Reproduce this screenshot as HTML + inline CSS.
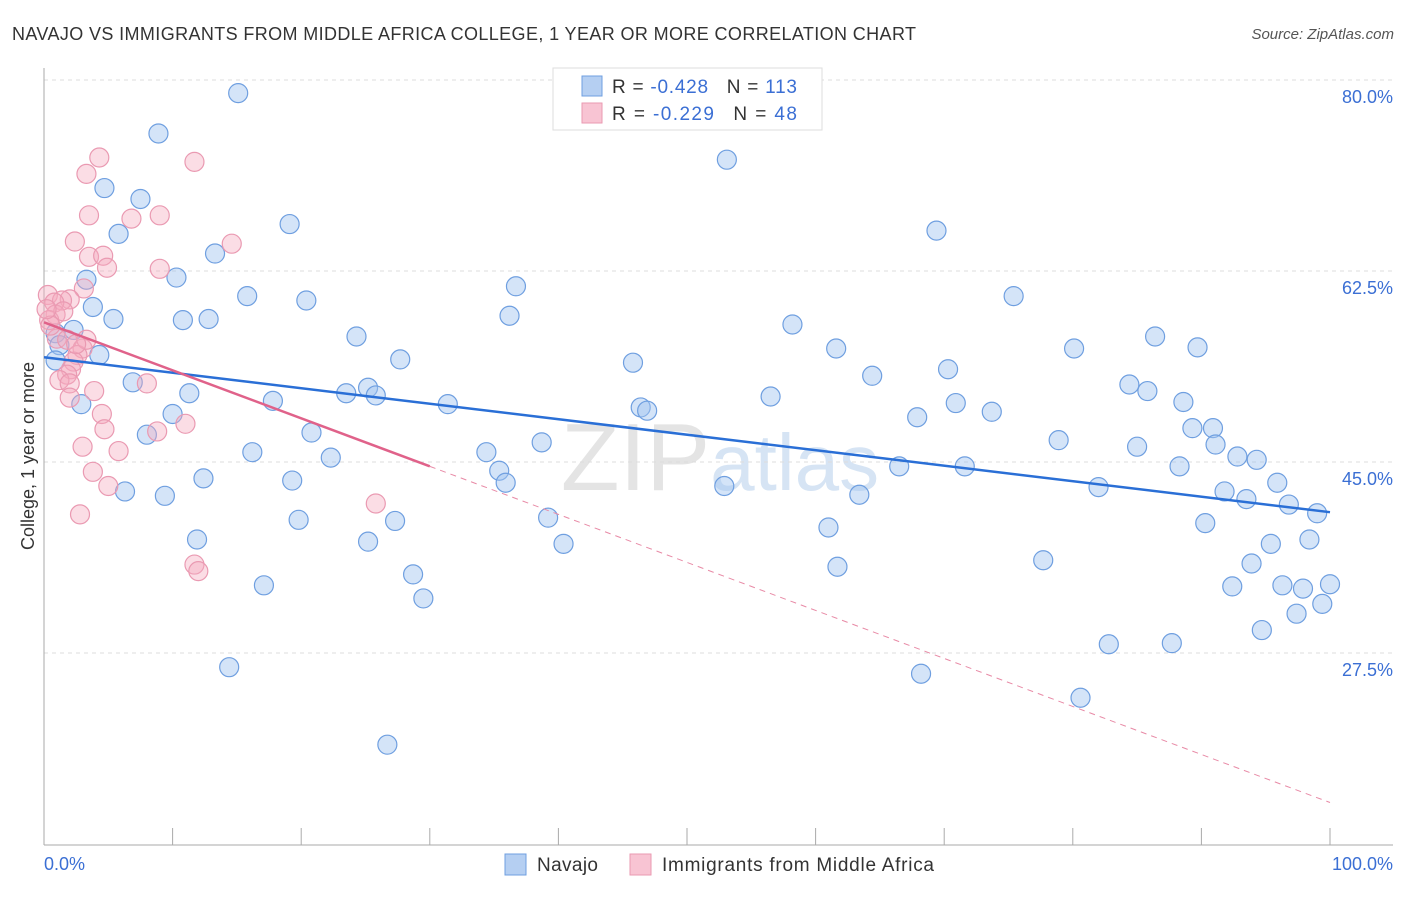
<!DOCTYPE html>
<html><head><meta charset="utf-8"><style>
body{margin:0;background:#fff;font-family:"Liberation Sans",sans-serif}
svg text{font-family:"Liberation Sans",sans-serif}
</style></head><body>
<svg id="chart" width="1406" height="892" xmlns="http://www.w3.org/2000/svg">
<text x="12" y="40" font-size="18" fill="#333" textLength="904" lengthAdjust="spacing">NAVAJO VS IMMIGRANTS FROM MIDDLE AFRICA COLLEGE, 1 YEAR OR MORE CORRELATION CHART</text>
<text x="1394" y="39" font-size="15" fill="#555" font-style="italic" text-anchor="end">Source: ZipAtlas.com</text>
<text x="720" y="490" font-size="96" fill="#e4e4e4" text-anchor="middle" font-family="Liberation Serif">ZIP<tspan fill="#d6e4f4" font-family="Liberation Sans" font-size="80">atlas</tspan></text>
<g id="grid"></g>
<g id="axes"></g>
<g id="pts"></g>
<g id="trends"></g>
<text transform="translate(34,456) rotate(-90)" font-size="18" fill="#333" text-anchor="middle">College, 1 year or more</text>
<text x="44" y="870" font-size="18" fill="#3b6fd4">0.0%</text>
<text x="1393" y="870" font-size="18" fill="#3b6fd4" text-anchor="end">100.0%</text>
<g>
<rect x="553" y="68" width="269" height="62" fill="#fff" stroke="#ddd"/>
<rect x="582" y="76" width="20" height="20" fill="#b5cff2" stroke="#6f9fe0"/>
<rect x="582" y="103" width="20" height="20" fill="#f8c4d3" stroke="#ea9ab2"/>
<text x="612" y="93" font-size="19" fill="#333" textLength="185" lengthAdjust="spacing">R = <tspan fill="#3b6fd4">-0.428</tspan><tspan dx="18">N = </tspan><tspan fill="#3b6fd4">113</tspan></text>
<text x="612" y="120" font-size="19" fill="#333" textLength="185" lengthAdjust="spacing">R = <tspan fill="#3b6fd4">-0.229</tspan><tspan dx="18">N = </tspan><tspan fill="#3b6fd4"> 48</tspan></text>
</g>
<g>
<rect x="505" y="854" width="21" height="21" fill="#b5cff2" stroke="#6f9fe0"/>
<text x="537" y="871" font-size="19" fill="#333" textLength="61" lengthAdjust="spacing">Navajo</text>
<rect x="630" y="854" width="21" height="21" fill="#f8c4d3" stroke="#ea9ab2"/>
<text x="662" y="871" font-size="19" fill="#333" textLength="272" lengthAdjust="spacing">Immigrants from Middle Africa</text>
</g>
</svg>
<script>
const yTicks=[80,62.5,45,27.5];
const yTickLabels=["80.0%","62.5%","45.0%","27.5%"];
const xTicks=[0,10,20,30,40,50,60,70,80,90,100];
const navajoX=[15.1,8.9,53.1,4.7,7.5,19.1,5.8,69.4,13.3,3.3,10.3,36.7,15.8,75.4,20.4,3.8,5.4,10.8,12.8,36.2,58.2,2.3,24.3,86.4,0.9,1.2,61.6,80.1,89.7,4.3,27.7,0.9,45.8,70.3,64.4,6.9,84.4,25.2,23.5,25.8,11.3,56.5,85.8,17.8,2.9,31.4,70.9,88.6,46.4,46.9,73.7,10.0,67.9,89.3,90.9,8.0,20.8,78.9,38.7,91.1,85.0,16.2,34.4,92.8,94.3,22.3,66.5,71.6,88.3,35.4,12.4,19.3,35.9,52.9,95.9,82.0,6.3,9.4,63.4,91.8,93.5,96.8,99.0,39.2,19.8,27.3,90.3,61.0,11.9,25.2,40.4,98.4,95.4,77.7,93.9,61.7,28.7,17.1,92.4,96.3,97.9,100.0,29.5,99.4,97.4,94.7,82.8,87.7,14.4,68.2,80.6,26.7];
const navajoY=[78.8,75.1,72.7,70.1,69.1,66.8,65.9,66.2,64.1,61.7,61.9,61.1,60.2,60.2,59.8,59.2,58.1,58.0,58.1,58.4,57.6,57.1,56.5,56.5,56.8,55.7,55.4,55.4,55.5,54.8,54.4,54.3,54.1,53.5,52.9,52.3,52.1,51.8,51.3,51.1,51.3,51.0,51.5,50.6,50.3,50.3,50.4,50.5,50.0,49.7,49.6,49.4,49.1,48.1,48.1,47.5,47.7,47.0,46.8,46.6,46.4,45.9,45.9,45.5,45.2,45.4,44.6,44.6,44.6,44.2,43.5,43.3,43.1,42.8,43.1,42.7,42.3,41.9,42.0,42.3,41.6,41.1,40.3,39.9,39.7,39.6,39.4,39.0,37.9,37.7,37.5,37.9,37.5,36.0,35.7,35.4,34.7,33.7,33.6,33.7,33.4,33.8,32.5,32.0,31.1,29.6,28.3,28.4,26.2,25.6,23.4,19.1];
const immX=[4.3,11.7,3.3,9.0,3.5,6.8,14.6,2.4,3.5,4.6,4.9,9.0,3.1,0.3,2.0,1.4,0.8,0.9,0.4,1.0,1.8,3.0,2.6,2.3,2.1,1.8,1.2,2.0,8.0,3.9,2.0,4.5,11.0,4.7,8.8,3.0,5.8,3.8,5.0,25.8,2.8,11.7,12.0,3.3,0.5,1.5,2.5,0.2];
const immY=[72.9,72.5,71.4,67.6,67.6,67.3,65.0,65.2,63.8,63.9,62.8,62.7,60.9,60.3,59.9,59.8,59.6,58.5,58.0,56.3,56.2,55.4,54.8,54.2,53.5,53.0,52.5,52.2,52.2,51.5,50.9,49.4,48.5,48.0,47.8,46.4,46.0,44.1,42.8,41.2,40.2,35.6,35.0,56.2,57.5,58.8,55.8,59.0];
const navajoTrend=[54.6,40.4];
const immTrend=[57.8,13.8];
const immSolidEnd=30;
const NS="http://www.w3.org/2000/svg";
const sx=v=>44+v*12.86, sy=v=>80+(80-v)*10.914;
function mk(t,a,p){const e=document.createElementNS(NS,t);for(const k in a)e.setAttribute(k,a[k]);p.appendChild(e);return e;}
const grid=document.getElementById('grid');
yTicks.forEach((t,i)=>{
 const l=mk('line',{x1:44,x2:1393,y1:sy(t),y2:sy(t),stroke:'#ddd','stroke-dasharray':'4,4'},grid);
 
 
 const tx=mk('text',{x:1393,y:sy(t)+23,'font-size':18,fill:'#3b6fd4','text-anchor':'end'},grid);
 tx.textContent=yTickLabels[i];
 
 
});
const ax=document.getElementById('axes');
const ya=mk('line',{x1:44,x2:44,y1:68,y2:845,stroke:'#aaa'},ax);


const xa=mk('line',{x1:44,x2:1393,y1:845,y2:845,stroke:'#aaa'},ax);


xTicks.forEach(t=>{const k=mk('line',{x1:sx(t),x2:sx(t),y1:828,y2:845,stroke:'#aaa'},ax);
 
 });
const pts=document.getElementById('pts');
navajoX.forEach((x,i)=>{const c=mk('circle',{cx:sx(x),cy:sy(navajoY[i]),r:9.5,fill:'rgba(160,196,240,0.45)',stroke:'#6f9fe0','stroke-width':1.2},pts);
 
 });
immX.forEach((x,i)=>{const c=mk('circle',{cx:sx(x),cy:sy(immY[i]),r:9.5,fill:'rgba(245,170,190,0.4)',stroke:'#ea9ab2','stroke-width':1.2},pts);
 
 });
const tr=document.getElementById('trends');
const f=(tp,x)=>tp[0]+(tp[1]-tp[0])*x/100;
const b=mk('line',{x1:sx(0),y1:sy(f(navajoTrend,0)),x2:sx(100),y2:sy(f(navajoTrend,100)),stroke:'#2a6fd6','stroke-width':2.5},tr);


const p1=mk('line',{x1:sx(0),y1:sy(f(immTrend,0)),x2:sx(immSolidEnd),y2:sy(f(immTrend,immSolidEnd)),stroke:'#e0628a','stroke-width':2.5},tr);


const p2=mk('line',{x1:sx(immSolidEnd),y1:sy(f(immTrend,immSolidEnd)),x2:sx(100),y2:sy(f(immTrend,100)),stroke:'#e88aa6','stroke-width':1,'stroke-dasharray':'6,5'},tr);


</script>
</body></html>
